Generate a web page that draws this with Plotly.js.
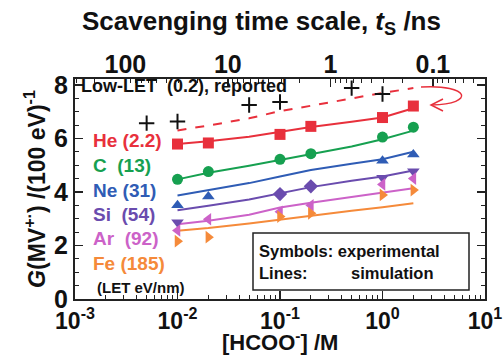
<!DOCTYPE html>
<html><head><meta charset="utf-8">
<script src="https://cdn.plot.ly/plotly-3.0.1.min.js"></script>
<style>html,body{margin:0;padding:0;background:#fff}#c{width:504px;height:356px}</style>
</head><body><div id="c"></div>
<script>
// ---- data ----
const concSim = [0.01, 0.02, 0.05, 0.1, 0.2, 0.5, 1, 2];
const simHe = [5.79, 5.89, 6.06, 6.25, 6.43, 6.62, 6.78, 7.13];
const simC  = [4.47, 4.72, 4.98, 5.20, 5.42, 5.70, 5.97, 6.29];
const simNe = [3.87, 4.06, 4.33, 4.58, 4.82, 5.05, 5.22, 5.50];
const simSi = [3.32, 3.48, 3.72, 3.96, 4.18, 4.42, 4.58, 4.80];
const simAr = [2.79, 2.92, 3.15, 3.42, 3.60, 3.82, 3.97, 4.14];
const simFe = [2.55, 2.65, 2.82, 2.97, 3.12, 3.30, 3.43, 3.58];
const simLow = [6.30, 6.48, 6.75, 7.02, 7.22, 7.50, 7.70, 7.88];

const concHe = [0.01, 0.02, 0.1, 0.2, 1, 2];
const expHe  = [5.79, 5.83, 6.15, 6.45, 6.78, 7.21];
const concC  = [0.01, 0.02, 0.1, 0.2, 1, 2];
const expC   = [4.47, 4.76, 5.22, 5.43, 6.05, 6.42];
const concNe = [0.01, 0.02, 1, 2];
const expNe  = [3.50, 3.83, 5.17, 5.40];
const concSi = [0.01, 0.1, 0.2, 1, 2];
const expSi  = [2.87, 3.92, 4.21, 4.53, 4.77];
const symSi  = ['triangle-down', 'diamond', 'diamond', 'triangle-down', 'triangle-down'];
const concAr = [0.01, 0.02, 0.1, 0.2, 1, 2];
const expAr  = [2.56, 2.98, 3.26, 3.50, 4.28, 4.50];
const concFe = [0.01, 0.02, 0.1, 0.2, 1, 2];
const expFe  = [2.16, 2.31, 3.08, 3.20, 3.89, 4.07];
const concLow = [0.005, 0.01, 0.05, 0.1, 0.5, 1];
const expLow  = [6.57, 6.63, 7.25, 7.36, 7.88, 7.66];

const ionNames = ['He\u00a0(2.2)', 'C\u00a0\u00a0(13)', 'Ne\u00a0(31)', 'Si\u00a0\u00a0(54)', 'Ar\u00a0\u00a0(92)', 'Fe\u00a0(185)'];
const bottomTickVals = [0.001, 0.01, 0.1, 1, 10];
const bottomTickText = ['10<sup>-3</sup>', '10<sup>-2</sup>', '10<sup>-1</sup>', '10<sup>0</sup>', '10<sup>1</sup>'];
const topTickVals = [100, 10, 1, 0.1];
const topTickText = ['100', '10', '1', '0.1'];

// ---- styles ----
const colors = ['#e8303c', '#16a050', '#2f5cb5', '#6a4cae', '#cc62c8', '#f58a3a'];
const FONT = 'Liberation Sans, Arial, sans-serif';
const kScav = 0.31; // ts(ns) = kScav / [HCOO-]

const sims = [simHe, simC, simNe, simSi, simAr, simFe];
const exps = [[concHe, expHe, 'square'], [concC, expC, 'circle'], [concNe, expNe, 'triangle-up'],
              [concSi, expSi, symSi], [concAr, expAr, 'triangle-left'], [concFe, expFe, 'triangle-right']];

const traces = [];
sims.forEach((s, i) => traces.push({x: concSim, y: s, mode: 'lines', line: {color: colors[i], width: 2}, showlegend: false, hoverinfo: 'skip'}));
traces.push({x: concSim, y: simLow, mode: 'lines', line: {color: colors[0], width: 2, dash: '9px,9px'}, showlegend: false});
exps.forEach((e, i) => traces.push({x: e[0], y: e[1], mode: 'markers',
  marker: {symbol: e[2], size: 11, color: colors[i]}, showlegend: false}));
traces.push({x: concLow, y: expLow, mode: 'markers', marker: {symbol: 'cross-thin', size: 11, line: {color: '#111', width: 2}}, showlegend: false});
// invisible trace for top axis
traces.push({x: [100, 1], y: [1, 1], xaxis: 'x2', yaxis: 'y', mode: 'markers', marker: {opacity: 0}, showlegend: false, hoverinfo: 'skip'});

const L = 75, R = 485, T = 79, B = 299;
const px = v => (v - L) / (R - L);
const py = v => (B - v) / (B - T);

function minorVals(decs) { const out = []; decs.forEach(d => { for (let k = 2; k <= 9; k++) out.push(k * d); }); return out; }

const annotations = [];
const labelY = [140, 165, 190, 214, 238, 263];
ionNames.forEach((n, i) => annotations.push({xref: 'paper', yref: 'paper', x: px(91), y: py(labelY[i]), xanchor: 'left', yanchor: 'middle',
  text: '<b>' + n + '</b>', showarrow: false, font: {family: FONT, size: 19, color: colors[i]}}));
annotations.push({xref: 'paper', yref: 'paper', x: px(95), y: py(287), xanchor: 'left', yanchor: 'middle',
  text: '<b>(LET eV/nm)</b>', showarrow: false, font: {family: FONT, size: 15, color: '#111'}});
annotations.push({xref: 'paper', yref: 'paper', x: px(79), y: py(86), xanchor: 'left', yanchor: 'middle',
  text: '<b>Low-LET\u00a0\u00a0(0.2), reported</b>', showarrow: false, font: {family: FONT, size: 18, color: '#111'}});
annotations.push({xref: 'paper', yref: 'paper', x: px(257), y: py(251), xanchor: 'left', yanchor: 'middle',
  text: '<b>Symbols: experimental</b>', showarrow: false, font: {family: FONT, size: 16.5, color: '#111'}});
annotations.push({xref: 'paper', yref: 'paper', x: px(257), y: py(273), xanchor: 'left', yanchor: 'middle',
  text: '<b>Lines:</b>', showarrow: false, font: {family: FONT, size: 16.5, color: '#111'}});
annotations.push({xref: 'paper', yref: 'paper', x: px(349), y: py(273), xanchor: 'left', yanchor: 'middle',
  text: '<b>simulation</b>', showarrow: false, font: {family: FONT, size: 16.5, color: '#111'}});
annotations.push({xref: 'paper', yref: 'paper', x: px(261), y: py(22), xanchor: 'center', yanchor: 'middle',
  text: '<b>Scavenging time scale, <i>t</i><sub>S</sub> /ns</b>', showarrow: false, font: {family: FONT, size: 26, color: '#111'}});
annotations.push({xref: 'paper', yref: 'paper', x: px(280), y: py(357), xanchor: 'center', yanchor: 'bottom',
  text: '<b>[HCOO<sup>-</sup>] /M</b>', showarrow: false, font: {family: FONT, size: 22, color: '#111'}});

const shapes = [
  {type: 'rect', xref: 'paper', yref: 'paper', x0: px(253), x1: px(469), y0: py(233), y1: py(290), line: {color: '#222', width: 1.5}},
  {type: 'path', xref: 'paper', yref: 'paper',
   path: `M ${px(421)},${py(87)} C ${px(470)},${py(84)} ${px(476)},${py(104)} ${px(432)},${py(105)}`,
   line: {color: colors[0], width: 1.5}},
  {type: 'path', xref: 'paper', yref: 'paper',
   path: `M ${px(443)},${py(99)} L ${px(431)},${py(105)} L ${px(443)},${py(111)}`,
   line: {color: colors[0], width: 1.5}}
];

const layout = {
  width: 504, height: 356,
  margin: {l: L, r: 504 - R, t: T, b: 356 - B},
  paper_bgcolor: '#fff', plot_bgcolor: '#fff',
  font: {family: FONT, color: '#111'},
  showlegend: false,
  xaxis: {type: 'log', range: [-3, 1], tickmode: 'array', tickvals: bottomTickVals, ticktext: bottomTickText,
    ticks: 'inside', ticklen: 8, tickwidth: 1.5, tickcolor: '#222', showline: true, linecolor: '#222', linewidth: 2,
    mirror: true, showgrid: false, zeroline: false,
    tickfont: {family: FONT, size: 23, weight: 'bold', color: '#111'},
    minor: {tickmode: 'array', tickvals: minorVals([0.001, 0.01, 0.1, 1]), ticks: 'inside', ticklen: 4, tickwidth: 1, tickcolor: '#222', showgrid: false}},
  xaxis2: {type: 'log', overlaying: 'x', side: 'top', anchor: 'y',
    range: [Math.log10(kScav / 0.001), Math.log10(kScav / 10)],
    tickmode: 'array', tickvals: topTickVals, ticktext: topTickText,
    ticks: 'inside', ticklen: 8, tickwidth: 1.5, tickcolor: '#222', showline: false, showgrid: false, zeroline: false,
    tickfont: {family: FONT, size: 25, weight: 'bold', color: '#111'},
    minor: {tickmode: 'array', tickvals: minorVals([0.01, 0.1, 1, 10, 100]), ticks: 'inside', ticklen: 4, tickwidth: 1, tickcolor: '#222', showgrid: false}},
  yaxis: {range: [0, 8.22], tickmode: 'array', tickvals: [0, 2, 4, 6, 8],
    ticks: 'inside', ticklen: 8, tickwidth: 1.5, tickcolor: '#222', showline: true, linecolor: '#222', linewidth: 2,
    mirror: 'ticks', showgrid: false, zeroline: false,
    tickfont: {family: FONT, size: 25, weight: 'bold', color: '#111'},
    minor: {dtick: 0.5, tick0: 0, ticks: 'inside', ticklen: 4, tickwidth: 1, tickcolor: '#222', showgrid: false},
    title: {text: '<b><i>G</i>(MV<sup>+·</sup>) /(100 eV)<sup>-1</sup></b>', font: {family: FONT, size: 23, color: '#111'}, standoff: 2}},
  annotations: annotations,
  shapes: shapes
};

Plotly.newPlot('c', traces, layout, {staticPlot: true, displayModeBar: false});
</script></body></html>
